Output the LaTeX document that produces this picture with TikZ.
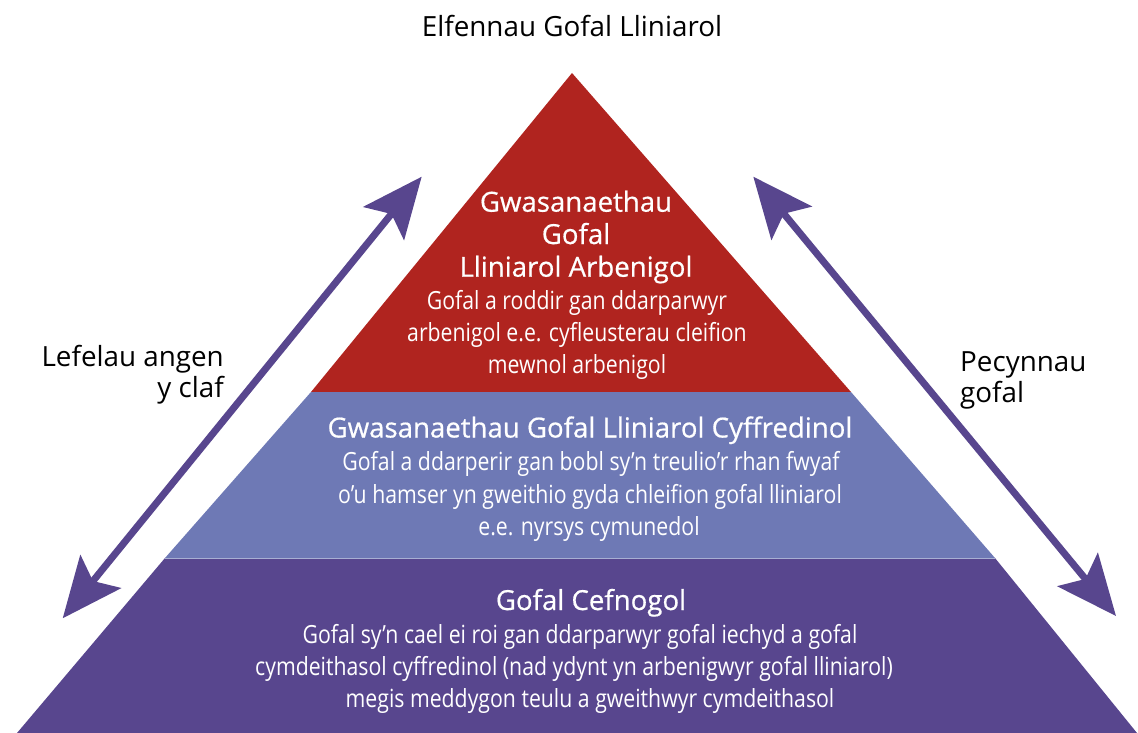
\documentclass[tikz,border=0pt]{standalone}
\usepackage{fontspec}
\setmainfont{Open Sans}
\newfontfamily\condfont[FakeStretch=0.85]{Open Sans}
\newfontfamily\headfont[FakeBold=0.6]{Open Sans}
\usetikzlibrary{arrows.meta}
\definecolor{pred}{RGB}{176,36,31}
\definecolor{pblue}{RGB}{110,121,181}
\definecolor{ppurple}{RGB}{88,70,142}
\tikzset{
  head/.style={font=\headfont\fontsize{27.6}{30}\selectfont, text=white, anchor=base, inner sep=0pt},
  body/.style={font=\condfont\fontsize{25}{30}\selectfont, text=white, anchor=base, inner sep=0pt},
  side/.style={font=\fontsize{27.8}{30}\selectfont, text=black, inner sep=0pt},
  dbl/.style={draw=ppurple, line width=7pt, {Stealth[length=60pt,width=52pt,inset=12pt]}-{Stealth[length=60pt,width=52pt,inset=12pt]}}
}
\begin{document}
\begin{tikzpicture}[x=1pt,y=-1pt]
\useasboundingbox (0,0) rectangle (1138,733);
% pyramid bands
\fill[pred] (572,73) -- (851,392) -- (311,392) -- cycle;
\fill[pblue] (311,392) -- (851,392) -- (995,558) -- (165,558) -- cycle;
\fill[ppurple] (165,558) -- (995,558) -- (1137,733) -- (17,733) -- cycle;
\draw[line width=0.8pt, color=pblue!60!white] (165,558) -- (995,558);
% top title
\node[side, anchor=base] (title) at (572,37) {Elfennau Gofal Lliniarol};
% red band
\node[head] (r1) at (576,211.7) {Gwasanaethau};
\node[head] (r2) at (576,244) {Gofal};
\node[head] (r3) at (576,276.7) {Lliniarol Arbenigol};
\node[body] (r4) at (577,309) {Gofal a roddir gan ddarparwyr};
\node[body] (r5) at (577,341) {arbenigol e.e. cyfleusterau cleifion};
\node[body] (r6) at (577,373) {mewnol arbenigol};
% blue band
\node[head] (b1) at (590,437.5) {Gwasanaethau Gofal Lliniarol Cyffredinol};
\node[body] (b2) at (591,470.5) {Gofal a ddarperir gan bobl sy’n treulio’r rhan fwyaf};
\node[body] (b3) at (590,503) {o’u hamser yn gweithio gyda chleifion gofal lliniarol};
\node[body] (b4) at (589,535) {e.e. nyrsys cymunedol};
% purple band
\node[head] (p1) at (591,610) {Gofal Cefnogol};
\node[body] (p2) at (580,643) {Gofal sy’n cael ei roi gan ddarparwyr gofal iechyd a gofal};
\node[body] (p3) at (574,675) {cymdeithasol cyffredinol (nad ydynt yn arbenigwyr gofal lliniarol)};
\node[body] (p4) at (590,707) {megis meddygon teulu a gweithwyr cymdeithasol};
% side labels
\node[side, anchor=base east] (l1) at (224,366.5) {Lefelau angen};
\node[side, anchor=base east] (l2) at (224,397) {y claf};
\node[side, anchor=base west] (k1) at (960,371) {Pecynnau};
\node[side, anchor=base west] (k2) at (960,402) {gofal};
% arrows
\coordinate (la) at (62.7,618.3);
\coordinate (lb) at (421.7,176.7);
\coordinate (ra) at (753.3,176.7);
\coordinate (rb) at (1116,616);
\draw[dbl] (la) -- (lb);
\draw[dbl] (ra) -- (rb);
\end{tikzpicture}
\end{document}
